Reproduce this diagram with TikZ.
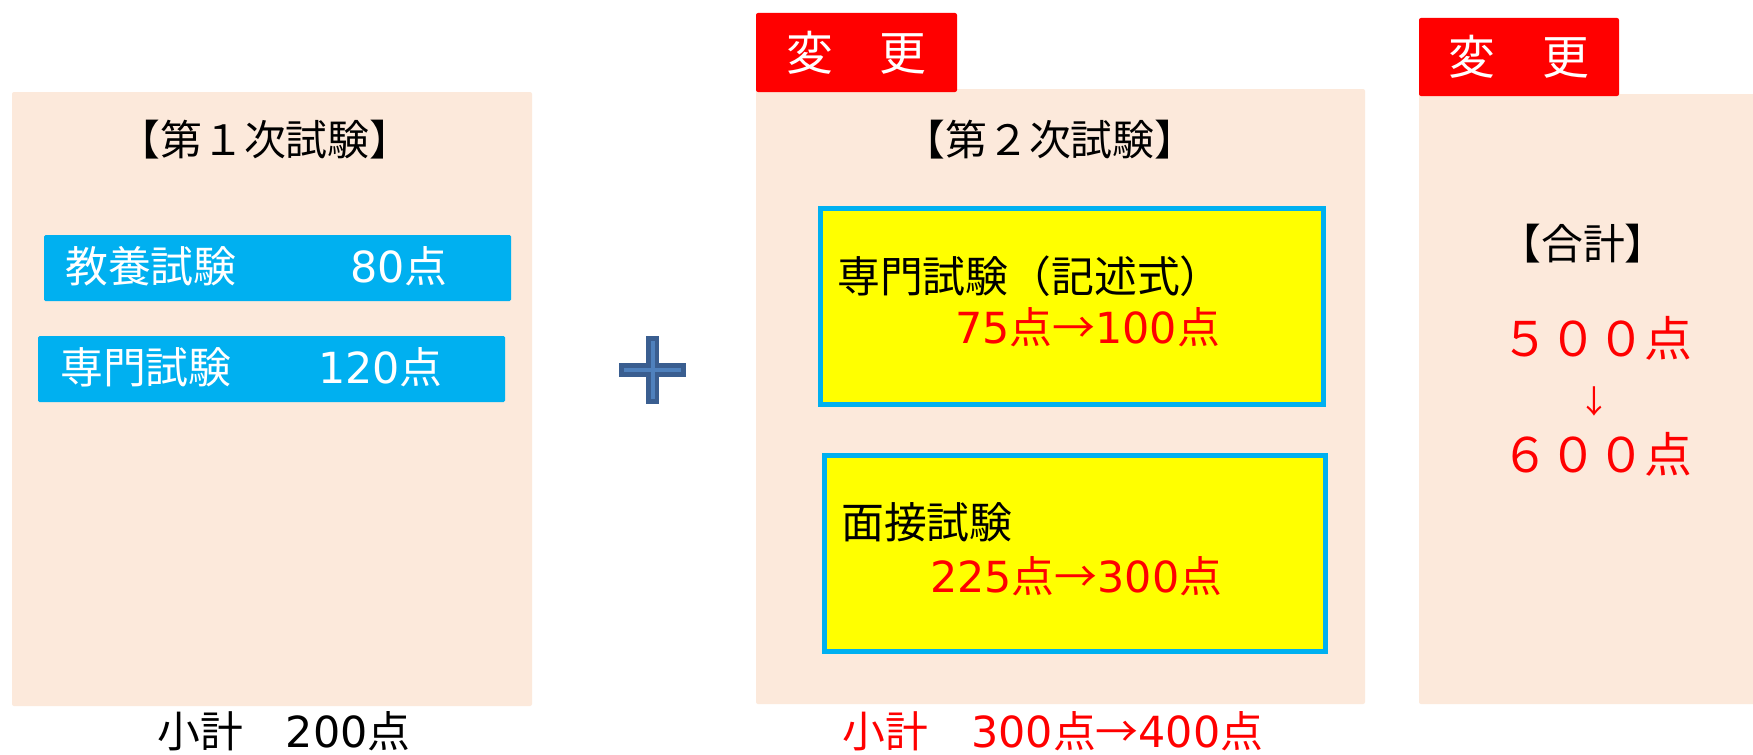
\documentclass[tikz,border=0pt]{standalone}
\usepackage{fontspec}
\setmainfont{Noto Sans CJK JP}
\newfontfamily\dvfont{DejaVu Sans}
\newcommand\dg[1]{{\dvfont #1}}
\definecolor{peach}{HTML}{FCE9DB}
\definecolor{barblue}{HTML}{00B0F0}
\definecolor{tagred}{HTML}{FF0000}
\definecolor{ylw}{HTML}{FFFF00}
\definecolor{plusdark}{HTML}{3A5E90}
\definecolor{pluslight}{HTML}{4F81BD}
\begin{document}
\begin{tikzpicture}[x=1bp,y=-1bp,
  fs/.style={font=\fontsize{#1}{#1}\selectfont},
  txt/.style={inner sep=0pt},
  panel/.style={fill=peach, rounded corners=2bp},
  bluebar/.style={fill=barblue, rounded corners=1.5bp},
  ybox/.style={fill=ylw, draw=barblue, line width=5bp},
  redtag/.style={fill=tagred, rounded corners=2bp, text=white, inner sep=0pt, fs=47},
  redtxt/.style={txt, text=tagred}
]
\useasboundingbox (0,0) rectangle (1753,755);
\fill[white] (0,0) rectangle (1753,755);

% panel 1
\fill[panel] (12,92) rectangle (532,706);
\node[txt, fs=42] (t1) at (265,140) {【第１次試験】};
\fill[bluebar] (44,235) rectangle (511,301);
\fill[bluebar] (38,336) rectangle (505,402);
\node[txt, fs=43, text=white, anchor=west] (k1) at (65,266) {教養試験};
\node[txt, fs=43, text=white, anchor=west] (k1p) at (350,266) {\dg{80}点};
\node[txt, fs=43, text=white, anchor=west] (s1) at (60,367) {専門試験};
\node[txt, fs=43, text=white, anchor=west] (s1p) at (318,367) {\dg{120}点};
\node[txt, fs=43] (sub1) at (284,731) {小計　\dg{200}点};

% plus
\fill[plusdark] (619,363) rectangle (686,377);
\fill[plusdark] (646,336) rectangle (659,404);
\draw[pluslight, line width=4bp] (624,370) -- (681,370);
\draw[pluslight, line width=4bp] (652.5,341) -- (652.5,399);

% panel 2
\fill[panel] (756,89) rectangle (1365,704);
\node[redtag, minimum width=201bp, minimum height=79bp] (tag2) at (856.5,52.5) {変　更};
\node[txt, fs=42] (t2) at (1050,140) {【第２次試験】};
\draw[ybox] (820.5,208.5) rectangle (1323.5,404.5);
\node[txt, fs=43, anchor=west] (sm) at (837,276) {専門試験（記述式）};
\node[redtxt, fs=43, anchor=west] (smp) at (955,327) {\dg{75}点→\dg{100}点};
\draw[ybox] (824.5,455.5) rectangle (1325.5,651.5);
\node[txt, fs=43, anchor=west] (mn) at (841,522) {面接試験};
\node[redtxt, fs=43, anchor=west] (mnp) at (930,576) {\dg{225}点→\dg{300}点};
\node[redtxt, fs=43] (sub2) at (1053,731) {小計　\dg{300}点→\dg{400}点};

% panel 3
\fill[panel] (1419,94) rectangle (1765,704);
\node[redtag, minimum width=200bp, minimum height=78bp] (tag3) at (1519,57) {変　更};
\node[txt, fs=42] (t3) at (1583,244) {【合計】};
\node[redtxt, fs=48] (tot1) at (1597,338) {５００点};
\node[redtxt, fs=32] (arr) at (1594,401) {↓};
\node[redtxt, fs=48] (tot2) at (1597,454) {６００点};
\end{tikzpicture}
\end{document}
